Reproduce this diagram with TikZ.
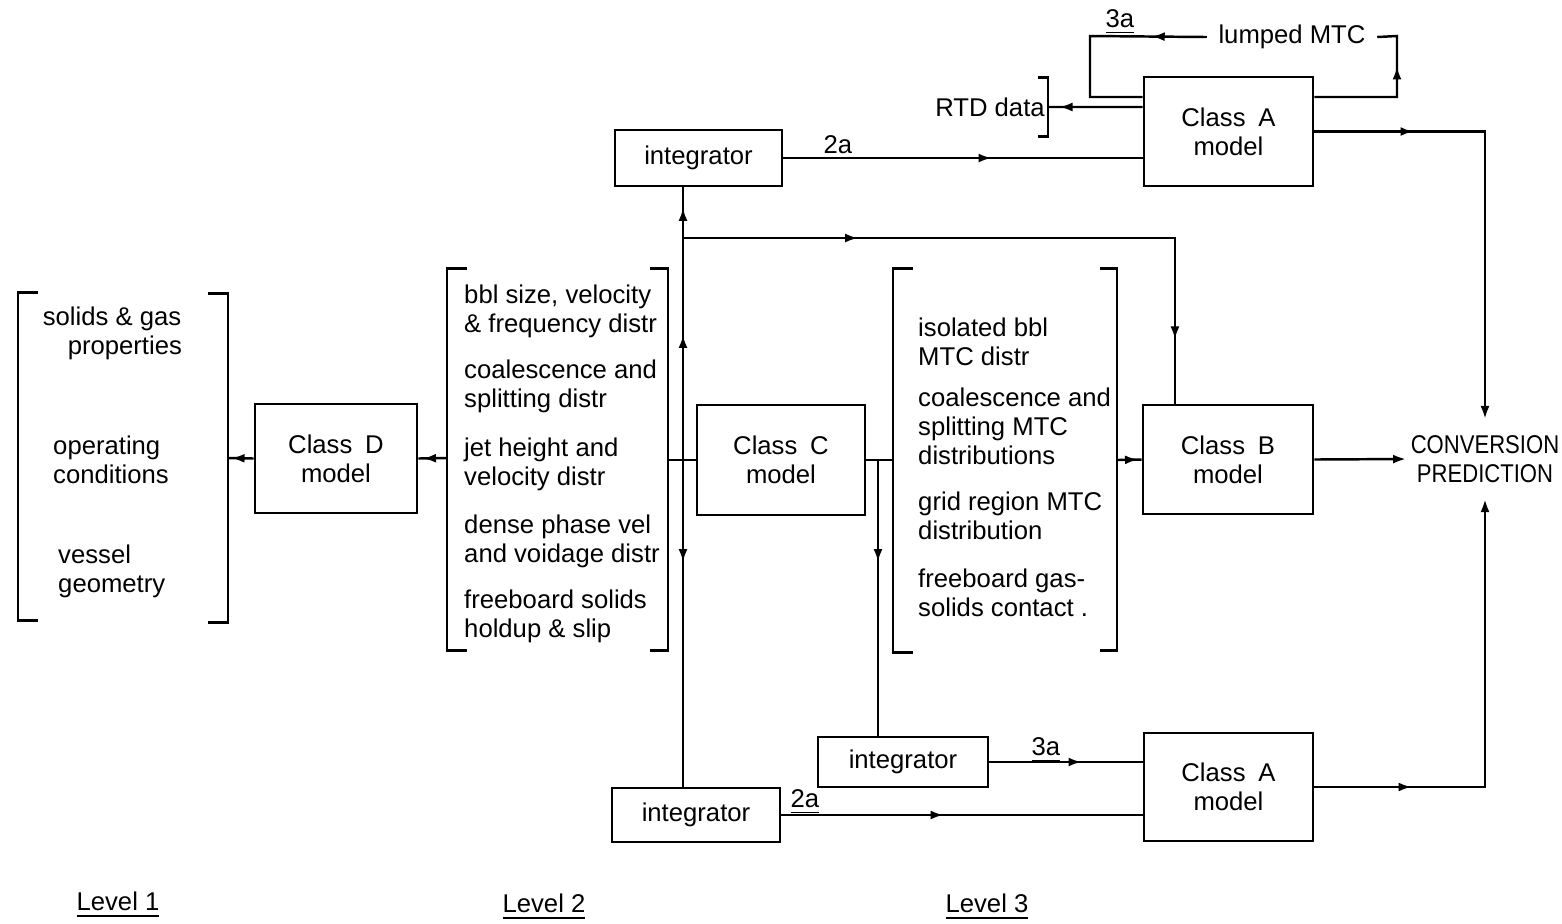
\documentclass[tikz,border=0pt]{standalone}
\usepackage{fontspec}
\setmainfont{Liberation Sans}
\usetikzlibrary{arrows.meta,decorations.markings}

\begin{document}
\begin{tikzpicture}[x=0.01cm,y=-0.01cm,line width=0.7pt,
  font=\fontsize{7.3}{8.3}\selectfont,
  model/.style={draw,line width=0.8pt,align=center,minimum width=1.69cm,minimum height=1.09cm},
  integ/.style={draw,line width=0.8pt,minimum width=1.68cm,minimum height=0.54cm},
  brk/.style={line width=0.85pt},
  txt/.style={align=left,anchor=west,inner sep=0pt},
  midarr/.style={postaction={decorate,decoration={markings,
      mark=at position #1 with {\arrow{Latex[length=1.3mm,width=0.9mm]}}}}},
  endtip/.style={-{Latex[length=1.3mm,width=0.9mm]}}]
\useasboundingbox (0,0) rectangle (1562,923);

% level 1
\draw[brk] (38,292) -- (18,292) -- (18,620) -- (38,620);
\draw[brk] (208,293) -- (228,293) -- (228,622) -- (208,622);
\node[align=center,inner sep=0pt] (sg) at (112,333) {solids \& gas\\\quad properties};
\node[txt] (oc) at (52,460) {operating\\conditions};
\node[txt] (vg) at (57,571) {vessel\\geometry};
\coordinate (l1r) at (228,458);

\node[model,minimum width=1.62cm] (clD) at (336,458.5) {Class\enspace D\\model};

% level 2
\draw[brk] (467,268) -- (447,268) -- (447,650) -- (467,650);
\draw[brk] (650,268) -- (668,268) -- (668,650) -- (650,650);
\node[txt] (bbl) at (463,311) {bbl size, velocity\\\& frequency distr};
\node[txt] (coal) at (463,386) {coalescence and\\splitting distr};
\node[txt] (jet) at (463,464) {jet height and\\velocity distr};
\node[txt] (dense) at (463,541) {dense phase vel\\and voidage distr};
\node[txt] (fbs) at (463,616) {freeboard solids\\holdup \& slip};
\coordinate (l2l) at (447,458);
\coordinate (l2r) at (668,460);

\node[model,minimum width=1.68cm,minimum height=1.10cm] (clC) at (781,460) {Class\enspace C\\model};

% level 3
\draw[brk] (913,268) -- (893,268) -- (893,652) -- (913,652);
\draw[brk] (1100,268) -- (1117,268) -- (1117,650) -- (1100,650);
\node[txt] (iso) at (917,342) {isolated bbl\\MTC distr};
\node[txt] (coalm) at (917,426) {coalescence and\\splitting MTC\\distributions};
\node[txt] (grid) at (917,516) {grid region MTC\\distribution};
\node[txt] (fbg) at (917,593) {freeboard gas-\\solids contact .};
\coordinate (l3l) at (893,460);
\coordinate (l3r) at (1117,460);

\node[model,minimum width=1.70cm] (clB) at (1228,459.5) {Class\enspace B\\model};
\node[model] (clAt) at (1228.5,131.5) {Class\enspace A\\model};
\node[model,minimum height=1.08cm] (clAb) at (1228.5,787) {Class\enspace A\\model};
\node[align=center,inner xsep=1pt,inner ysep=4.3pt,
  font=\fontsize{7.3}{8.3}\selectfont\addfontfeatures{FakeStretch=0.86}] (conv) at (1485,459) {CONVERSION\\PREDICTION};

\node[integ,minimum width=1.67cm,minimum height=0.56cm] (intT) at (698.5,158) {integrator};
\node[integ,minimum width=1.70cm,minimum height=0.50cm] (intM) at (903,762) {integrator};
\node[integ] (intB) at (696,815) {integrator};

% top loop
\node (rtd) at (990,107) {RTD data};
\draw[brk] (1038,77) -- (1048,77) -- (1048,136) -- (1038,136);
\coordinate (rtdb) at (1048,107);
\node[inner sep=3pt] (lump) at (1292,37) {lumped MTC};
\coordinate (lpR) at (1397,36);
\coordinate (lpL) at (1090,36);

% labels
\node (t2a) at (838,145) {2a};
\node (t3a) at (1120,22) {\underline{3a}};
\node (m3a) at (1046,750) {\underline{3a}};
\node (b2a) at (805,802) {\underline{2a}};
\node (lv1) at (118,905) {\underline{Level 1}};
\node (lv2) at (544,907) {\underline{Level 2}};
\node (lv3) at (987,907) {\underline{Level 3}};

% connectors
\draw[midarr=0.22cm] (clD.west) -- (l1r);
\draw[midarr=0.24cm] (l2l) -- (clD.east);
\draw (l2r) -- (clC.west);
\draw (clC.east) -- (l3l);
\draw[midarr=0.21cm] (l3r) -- (clB.west);
\draw[endtip] (clB.east) -- (conv.west);

\coordinate (jC) at (683,460);
\coordinate (jT) at (683,238);
\coordinate (jC2) at (878,460);
\draw[midarr=1.25cm,midarr=2.52cm] (jC) -- (jC |- intT.south);
\draw[midarr=1.75cm,midarr=5.93cm] (jT) -| ([xshift=-0.53cm]clB.north);
\draw[midarr=1.02cm] (jC) -- (jC |- intB.north);
\draw[midarr=1.02cm] (jC2) -- (jC2 |- intM.north);

\draw[midarr=2.08cm] (intT.east) -- (intT.east -| clAt.west);
\draw[midarr=0.92cm] (intM.east) -- (intM.east -| clAb.west);
\draw[midarr=1.62cm] (intB.east) -- (intB.east -| clAb.west);
\draw[endtip,midarr=0.99cm] (clAt.east) -| (conv.north);
\draw[endtip,midarr=0.97cm] (clAb.east) -| (conv.south);

\draw[midarr=1.13cm] ([yshift=.345cm]clAt.east) -| (lpR) -- (lump.east);
\draw[midarr=0.55cm] (lump.west) -- (lpL) |- ([yshift=.345cm]clAt.west);
\draw[midarr=0.83cm] ([yshift=.245cm]clAt.west) -- (rtdb);

\end{tikzpicture}
\end{document}
